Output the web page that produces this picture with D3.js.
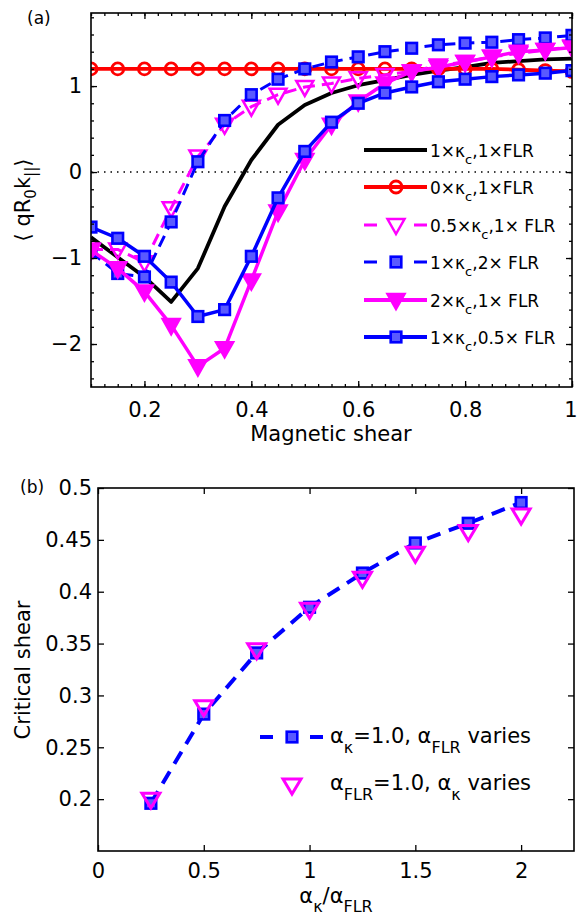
<!DOCTYPE html>
<html>
<head>
<meta charset="utf-8">
<script src="https://cdn.jsdelivr.net/npm/d3@7"></script>
<style>
  body { margin: 0; background: #fff; }
  text { font-family: "DejaVu Sans", sans-serif; fill: #000; }
</style>
</head>
<body>
<div class="chart"></div>
<script>
var svgWidth = 577;
var svgHeight = 921;

// panel (a): magnetic shear scan
var shear = [0.1, 0.15, 0.2, 0.25, 0.3, 0.35, 0.4, 0.45, 0.5, 0.55, 0.6, 0.65, 0.7, 0.75, 0.8, 0.85, 0.9, 0.95, 1.0];
var base = [-0.76, -0.99, -1.22, -1.51, -1.12, -0.40, 0.14, 0.55, 0.78, 0.92, 1.01, 1.07, 1.13, 1.18, 1.22, 1.27, 1.29, 1.31, 1.32];
var noKappa = [1.2, 1.2, 1.2, 1.2, 1.2, 1.2, 1.2, 1.2, 1.2, 1.2, 1.2, 1.2, 1.2, 1.2, 1.2, 1.2, 1.19, 1.18, 1.17];
var halfKappa = [-0.90, -0.90, -1.05, -0.42, 0.18, 0.55, 0.76, 0.90, 0.99, 1.03, 1.09, 1.13, 1.17, 1.24, 1.28, 1.34, 1.38, 1.42, 1.46];
var twoFLR = [-0.93, -1.18, -1.22, -0.58, 0.12, 0.60, 0.90, 1.08, 1.20, 1.28, 1.34, 1.40, 1.44, 1.48, 1.50, 1.51, 1.54, 1.56, 1.59];
var twoKappa = [-0.91, -1.12, -1.39, -1.78, -2.26, -2.05, -1.26, -0.46, 0.14, 0.55, 0.82, 1.03, 1.17, 1.22, 1.28, 1.34, 1.40, 1.42, 1.45];
var halfFLR = [-0.64, -0.77, -0.98, -1.28, -1.68, -1.60, -0.98, -0.30, 0.24, 0.58, 0.80, 0.92, 0.99, 1.05, 1.08, 1.11, 1.13, 1.15, 1.18];
var shearTicks = [0.2, 0.4, 0.6, 0.8, 1];
var kparTicks = [-2, -1, 0, 1];

// panel (b): critical shear
var ratio = [0.25, 0.5, 0.75, 1.0, 1.25, 1.5, 1.75, 2.0];
var critFLR = [0.196, 0.282, 0.341, 0.385, 0.418, 0.447, 0.466, 0.486];
var critKappa = [0.200, 0.289, 0.344, 0.383, 0.413, 0.437, 0.458, 0.474];
var ratioTicks = [0, 0.5, 1, 1.5, 2];
var critTicks = [0.2, 0.25, 0.3, 0.35, 0.4, 0.45, 0.5];

var svg = d3.select(".chart").append("svg")
    .attr("width", svgWidth)
    .attr("height", svgHeight);

svg.append("rect").attr("width", svgWidth).attr("height", svgHeight).attr("fill", "#fff");

// helper: text with subscripts, parts = [[str, isSub], ...]
function richText(sel, parts, subSize, subShift) {
    var down = false;
    parts.forEach(function (p) {
        var t = sel.append("tspan").text(p[0]);
        if (p[1] && !down) { t.attr("dy", subShift).attr("font-size", subSize); down = true; }
        else if (!p[1] && down) { t.attr("dy", -subShift); down = false; }
        else if (p[1]) { t.attr("font-size", subSize); }
    });
    return sel;
}

// marker painters
function drawMarker(g, type, x, y, color) {
    if (type === "circle") {
        g.append("circle").attr("cx", x).attr("cy", y).attr("r", 6)
            .attr("fill", "none").attr("stroke", color).attr("stroke-width", 2.8);
    } else if (type === "square") {
        g.append("rect").attr("x", x - 5.3).attr("y", y - 5.3).attr("width", 10.6).attr("height", 10.6)
            .attr("fill", "#5a5aff").attr("stroke", color).attr("stroke-width", 2.6);
    } else if (type === "triOpen" || type === "triFill") {
        g.append("path")
            .attr("d", `M${x - 8.5},${y - 6} L${x + 8.5},${y - 6} L${x},${y + 9} Z`)
            .attr("fill", type === "triFill" ? color : "none")
            .attr("stroke", color).attr("stroke-width", 2.5).attr("stroke-linejoin", "miter");
    }
}

// ---------- panel (a) ----------
var xA = d3.scaleLinear().domain([0.1, 1]).range([91, 572]);
var yA = d3.scaleLinear().domain([-2.5, 1.85]).range([387, 13]);

var gA = svg.append("g");

svg.append("defs").append("clipPath").attr("id", "clipA")
    .append("rect").attr("x", 91).attr("y", 13).attr("width", 481).attr("height", 374);

var plotA = gA.append("g").attr("clip-path", "url(#clipA)");

// zero line
plotA.append("line")
    .attr("x1", xA(0.1)).attr("x2", xA(1)).attr("y1", yA(0)).attr("y2", yA(0))
    .attr("stroke", "#000").attr("stroke-width", 1.5).attr("stroke-dasharray", "1.5,5");

var seriesA = [
    { values: base, color: "#000", dash: null, marker: null, width: 3.8 },
    { values: noKappa, color: "#ff0000", dash: null, marker: "circle", width: 3.8 },
    { values: halfKappa, color: "#ff00ff", dash: "12,7", marker: "triOpen", width: 3 },
    { values: twoFLR, color: "#0000ff", dash: "12,7", marker: "square", width: 3 },
    { values: twoKappa, color: "#ff00ff", dash: null, marker: "triFill", width: 3.5 },
    { values: halfFLR, color: "#0000ff", dash: null, marker: "square", width: 3.5 }
];
var labelsA = [
    [["1×κ", 0], ["c", 1], [",1×FLR", 0]],
    [["0×κ", 0], ["c", 1], [",1×FLR", 0]],
    [["0.5×κ", 0], ["c", 1], [",1× FLR", 0]],
    [["1×κ", 0], ["c", 1], [",2× FLR", 0]],
    [["2×κ", 0], ["c", 1], [",1× FLR", 0]],
    [["1×κ", 0], ["c", 1], [",0.5× FLR", 0]]
];

var lineA = d3.line().x((d, i) => xA(shear[i])).y(d => yA(d));

seriesA.forEach(function (s) {
    var g = plotA.append("g");
    g.append("path").datum(s.values)
        .attr("d", lineA)
        .attr("fill", "none")
        .attr("stroke", s.color)
        .attr("stroke-width", s.width)
        .attr("stroke-linejoin", "round")
        .attr("stroke-dasharray", s.dash);
    if (s.marker) {
        s.values.forEach(function (v, i) { drawMarker(g, s.marker, xA(shear[i]), yA(v), s.color); });
    }
});

// axes for (a), ticks pointing inward, box on
gA.append("g").attr("transform", "translate(0,387)")
    .call(d3.axisBottom(xA).tickValues(d3.range(0.1, 1.0001, 0.025)).tickSize(-3).tickFormat(""));
gA.append("g").attr("transform", "translate(0,13)")
    .call(d3.axisTop(xA).tickValues(d3.range(0.1, 1.0001, 0.025)).tickSize(-3).tickFormat(""));
gA.append("g").attr("transform", "translate(91,0)")
    .call(d3.axisLeft(yA).tickValues(d3.range(-2.4, 1.81, 0.2)).tickSize(-3).tickFormat(""));
gA.append("g").attr("transform", "translate(572,0)")
    .call(d3.axisRight(yA).tickValues(d3.range(-2.4, 1.81, 0.2)).tickSize(-3).tickFormat(""));

gA.append("g").attr("class", "xa").attr("transform", "translate(0,387)")
    .call(d3.axisBottom(xA).tickValues(shearTicks).tickSizeInner(-6).tickSizeOuter(0).tickPadding(15).tickFormat(d3.format("")));
gA.append("g").attr("transform", "translate(0,13)")
    .call(d3.axisTop(xA).tickValues(shearTicks).tickSizeInner(-6).tickSizeOuter(0).tickFormat(""));
gA.append("g").attr("class", "ya").attr("transform", "translate(91,0)")
    .call(d3.axisLeft(yA).tickValues(kparTicks).tickSizeInner(-6).tickSizeOuter(0).tickPadding(9).tickFormat(d3.format("")));
gA.append("g").attr("transform", "translate(572,0)")
    .call(d3.axisRight(yA).tickValues(kparTicks).tickSizeInner(-6).tickSizeOuter(0).tickFormat(""));

gA.append("rect").attr("x", 91).attr("y", 13).attr("width", 481).attr("height", 374)
    .attr("fill", "none").attr("stroke", "#000").attr("stroke-width", 1.6);

// legend (a)
var legA = gA.append("g");
var legRows = [150, 187, 225, 262, 300, 337];
seriesA.forEach(function (s, i) {
    var y = legRows[i];
    legA.append("line").attr("x1", 364).attr("x2", 427).attr("y1", y).attr("y2", y)
        .attr("stroke", s.color).attr("stroke-width", s.dash ? 3 : 3.8)
        .attr("stroke-dasharray", s.dash ? "13,37" : null);
    if (s.marker) drawMarker(legA, s.marker, 396, y, s.color);
    richText(legA.append("text").attr("x", 430).attr("y", y + 6.5).attr("font-size", 17),
        labelsA[i], 13, 7);
});

// labels (a)
gA.append("text").attr("x", 331).attr("y", 441).attr("text-anchor", "middle")
    .attr("font-size", 21).text("Magnetic shear");
richText(gA.append("text").attr("transform", "translate(30,200) rotate(-90)")
    .attr("text-anchor", "middle").attr("font-size", 21),
    [["⟨ qR", 0], ["0", 1], ["k", 0], ["||", 1], ["⟩", 0]], 15, 6);
gA.append("text").attr("x", 27).attr("y", 24).attr("font-size", 17).text("(a)");

// ---------- panel (b) ----------
var xB = d3.scaleLinear().domain([0, 2.25]).range([98, 574]);
var yB = d3.scaleLinear().domain([0.15, 0.5]).range([851, 488]);
var gB = svg.append("g");

var lineB = d3.line().x((d, i) => xB(ratio[i])).y(d => yB(d));
gB.append("path").datum(critFLR)
    .attr("d", lineB).attr("fill", "none").attr("stroke", "#0000ff")
    .attr("stroke-width", 4).attr("stroke-dasharray", "14,9");
critFLR.forEach(function (v, i) { drawMarker(gB, "square", xB(ratio[i]), yB(v), "#0000ff"); });
critKappa.forEach(function (v, i) {
    gB.append("path")
        .attr("d", `M${xB(ratio[i]) - 9},${yB(v) - 6} L${xB(ratio[i]) + 9},${yB(v) - 6} L${xB(ratio[i])},${yB(v) + 9} Z`)
        .attr("fill", "none").attr("stroke", "#ff00ff").attr("stroke-width", 3);
});

gB.append("g").attr("class", "xb").attr("transform", "translate(0,851)")
    .call(d3.axisBottom(xB).tickValues(ratioTicks).tickSizeInner(-6).tickSizeOuter(0).tickPadding(12).tickFormat(d3.format("")));
gB.append("g").attr("transform", "translate(0,488)")
    .call(d3.axisTop(xB).tickValues(ratioTicks).tickSizeInner(-6).tickSizeOuter(0).tickFormat(""));
gB.append("g").attr("class", "yb").attr("transform", "translate(98,0)")
    .call(d3.axisLeft(yB).tickValues(critTicks).tickSizeInner(-6).tickSizeOuter(0).tickPadding(6).tickFormat(d3.format("")));
gB.append("g").attr("transform", "translate(574,0)")
    .call(d3.axisRight(yB).tickValues(critTicks).tickSizeInner(-6).tickSizeOuter(0).tickFormat(""));

gB.append("rect").attr("x", 98).attr("y", 488).attr("width", 476).attr("height", 363)
    .attr("fill", "none").attr("stroke", "#000").attr("stroke-width", 1.6);

// legend (b)
var legB = gB.append("g");
legB.append("line").attr("x1", 260).attr("x2", 323).attr("y1", 737).attr("y2", 737)
    .attr("stroke", "#0000ff").attr("stroke-width", 4).attr("stroke-dasharray", "13,37");
drawMarker(legB, "square", 292, 737, "#0000ff");
legB.append("path").attr("d", "M283,779 L301,779 L292,794 Z")
    .attr("fill", "none").attr("stroke", "#ff00ff").attr("stroke-width", 3);
richText(legB.append("text").attr("x", 330).attr("y", 743).attr("font-size", 21),
    [["α", 0], ["κ", 1], ["=1.0, α", 0], ["FLR", 1], [" varies", 0]], 16, 10);
richText(legB.append("text").attr("x", 330).attr("y", 790).attr("font-size", 21),
    [["α", 0], ["FLR", 1], ["=1.0, α", 0], ["κ", 1], [" varies", 0]], 16, 10);

// labels (b)
richText(gB.append("text").attr("x", 336).attr("y", 903).attr("text-anchor", "middle").attr("font-size", 21),
    [["α", 0], ["κ", 1], ["/α", 0], ["FLR", 1]], 16, 9);
gB.append("text").attr("transform", "translate(30,670) rotate(-90)")
    .attr("text-anchor", "middle").attr("font-size", 21).text("Critical shear");
gB.append("text").attr("x", 20).attr("y", 493).attr("font-size", 17).text("(b)");

// common axis styling
svg.selectAll(".tick text").attr("font-size", 21).attr("font-family", "DejaVu Sans, sans-serif");
svg.selectAll(".domain").remove();
svg.selectAll(".tick line").attr("stroke", "#000").attr("stroke-width", 1.3);
// keep the last shear label inside the page
gA.select(".xa").selectAll(".tick text").filter(d => d === 1).attr("text-anchor", "end").attr("x", 5);
</script>
</body>
</html>
